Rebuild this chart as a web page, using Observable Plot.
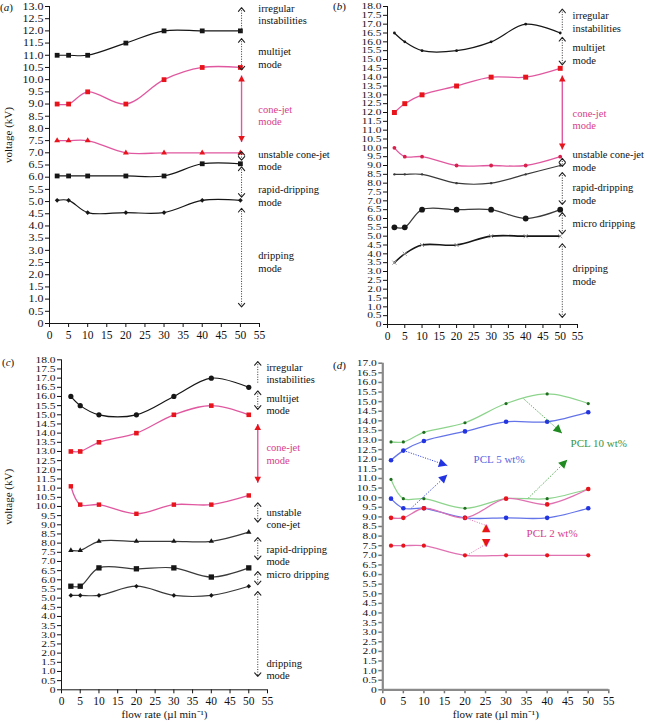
<!DOCTYPE html>
<html><head><meta charset="utf-8">
<script src="https://cdn.jsdelivr.net/npm/d3@7"></script>
<script src="https://cdn.jsdelivr.net/npm/@observablehq/plot@0.6"></script>
<style>
body{margin:0;background:#fff;}
#fig{position:relative;width:645px;height:723px;overflow:hidden;background:#fff;font-family:"Liberation Serif","Times New Roman",serif;color:#111;}
#fig svg{position:absolute;overflow:visible;background:transparent;}
.pl{position:absolute;font-size:11px;line-height:12px;}
</style></head><body><div id="fig">
<div class="pl" style="left:0px;top:1px">(<i>a</i>)</div>
<div class="pl" style="left:333px;top:0px">(<i>b</i>)</div>
<div class="pl" style="left:2px;top:356px">(<i>c</i>)</div>
<div class="pl" style="left:333px;top:359px">(<i>d</i>)</div>
</div>
<script>
// ---------------- DATA ----------------
// panel (a)
const flowA = [2, 5, 10, 20, 30, 40, 50];
const aIrregularOnset = [11, 11, 11, 11.5, 12, 12, 12];
const aMultijetOnset = [9, 9, 9.5, 9, 10, 10.5, 10.5];
const aConeJetOnset = [7.5, 7.5, 7.5, 7, 7, 7, 7];
const aUnstableOnset = [6.05, 6.05, 6.05, 6.05, 6.05, 6.55, 6.55];
const aRapidOnset = [5.05, 5.05, 4.55, 4.55, 4.55, 5.05, 5.05];
const aModes = ["irregular\ninstabilities", "multijet\nmode", "cone-jet\nmode", "unstable cone-jet\nmode", "rapid-dripping\nmode", "dripping\nmode"];
const aModeY = [12.69, 10.91, 8.55, 6.70, 5.25, 2.54];
const aArrowTop = [12.95, 11.68, 10.17, 7.05, 6.42, 4.72];
const aArrowBottom = [11.95, 10.4, 7.44, 6.7, 5.18, 0.68];
const aArrowKind = ["up", "both", "cone", "both", "both", "both"];

// panel (b)
const flowB = [2, 5, 10, 20, 30, 40, 50];
const bIrregularOnset = [16.5, 16, 15.5, 15.5, 16, 17, 16.5];
const bMultijetOnset = [12, 12.5, 13, 13.5, 14, 14, 14.5];
const bConeJetOnset = [10, 9.5, 9.5, 9, 9, 9, 9.5];
const bUnstableOnset = [8.5, 8.5, 8.5, 8, 8, 8.5, 9];
const bRapidOnset = [5.5, 5.5, 6.5, 6.5, 6.5, 6, 6.5];
const bMicroOnset = [3.5, 4, 4.5, 4.5, 5, 5, 5];
const bModes = ["irregular\ninstabilities", "multijet\nmode", "cone-jet\nmode", "unstable cone-jet\nmode", "rapid-dripping\nmode", "micro dripping", "dripping\nmode"];
const bModeY = [17.15, 15.34, 11.63, 9.28, 7.41, 5.77, 2.83];
const bArrowTop = [17.85, 16.25, 14.1, 9.4, 8.6, 6.33, 4.57];
const bArrowBottom = [16.6, 14.7, 9.9, 8.95, 6.8, 5.13, 0.4];
const bArrowKind = ["up", "both", "cone", "both", "both", "both", "both"];

// panel (c)
const flowC = [2.5, 5, 10, 20, 30, 40, 50];
const cIrregularOnset = [16, 15.5, 15, 15, 16, 17, 16.5];
const cMultijetOnset = [13, 13, 13.5, 14, 15, 15.5, 15];
const cConeJetOnset = [11.1, 10.1, 10.1, 9.6, 10.1, 10.1, 10.6];
const cUnstableOnset = [7.6, 7.6, 8.1, 8.1, 8.1, 8.1, 8.6];
const cRapidOnset = [5.65, 5.65, 6.65, 6.6, 6.65, 6.15, 6.65];
const cMicroOnset = [5.15, 5.15, 5.15, 5.65, 5.15, 5.15, 5.65];
const cModes = ["irregular\ninstabilities", "multijet\nmode", "cone-jet\nmode", "unstable\ncone-jet", "rapid-dripping\nmode", "micro dripping", "dripping\nmode"];
const cModeY = [17.28, 15.59, 12.89, 9.37, 7.35, 6.29, 1.13];
const cArrowTop = [17.9, 16.3, 14.5, 10.2, 8.3, 6.45, 5.36];
const cArrowBottom = [16.7, 15.3, 11.3, 9.15, 7.1, 5.73, 0.73];
const cArrowKind = ["up", "both", "cone", "both", "both", "both", "both"];

// panel (d)
const flowD = [2, 5, 10, 20, 30, 40, 50];
const dPCL10Upper = [12.9, 12.9, 13.4, 13.9, 14.9, 15.4, 14.9];
const dPCL5Upper = [11.95, 12.45, 12.95, 13.45, 13.95, 13.95, 14.45];
const dPCL10Lower = [10.95, 9.95, 9.95, 9.45, 9.95, 9.95, 10.45];
const dPCL2Upper = [8.95, 8.95, 9.45, 8.95, 9.95, 9.65, 10.45];
const dPCL5Lower = [9.95, 9.45, 9.45, 8.95, 8.95, 8.95, 9.45];
const dPCL2Lower = [7.5, 7.5, 7.5, 7, 7, 7, 7];
const dLabels = ["PCL 5 wt%", "PCL 10 wt%", "PCL 2 wt%"];
const dLabelX = [22.1, 45.7, 35.0];
const dLabelY = [11.99, 12.82, 8.13];
// pointer arrows: [x1, y1, x2, y2]
const dBluePointers = [[5.1, 12.45, 15.7, 11.67], [7.0, 9.47, 15.7, 11.2]];
const dGreenPointers = [[34.3, 15.14, 43.6, 13.36], [35.5, 10.0, 44.9, 11.97]];
const dRedPointers = [[20, 8.95, 25.2, 8.55], [20.5, 7.0, 25.2, 7.6]];
const dRedHeads = [["\u25B2", 25.2, 8.47], ["\u25BC", 25.2, 7.68]];

// ---------------- STYLE ----------------
const serif = '"Liberation Serif","Times New Roman",serif';
const K = "#161616", DK = "#3a3a3a";
const PINKLINE = "#e0589f", RED = "#e8141c", PINKTXT = "#d8408c";
const GREENLINE = "#8dd48d", GREENPT = "#1f6e1f", GREENTXT = "#3a943a";
const BLUELINE = "#6373e8", BLUEPT = "#2233e0", BLUETXT = "#5565df";
const PINK2 = "#e072b2";
const fig = document.getElementById("fig");

const xOpt = {domain: [0, 55], ticks: d3.range(0, 56, 5), tickSize: 4, tickPadding: 3, label: null, tickFormat: d => String(d)};
const yOpt = m => ({domain: [0, m], ticks: d3.range(0, m + 0.001, 0.5), tickSize: 4, tickPadding: 2, label: null,
  tickFormat: d => d === 0 ? "0" : d.toFixed(1)});

function seriesMarks(flow, list) {
  const out = [];
  for (const s of list) {
    const rows = flow.map((x, i) => ({x, y: s.v[i]}));
    out.push(Plot.line(rows, {x: "x", y: "y", curve: "catmull-rom", stroke: s.line, strokeWidth: s.lw || 1.2}));
    const dopt = {x: "x", y: "y", symbol: s.symbol, r: s.r};
    if (s.symbol === "times") { dopt.stroke = s.fill; dopt.strokeWidth = 1; }
    else { dopt.fill = s.fill; }
    out.push(Plot.dot(rows, dopt));
  }
  return out;
}

function modeMarks(o) {
  const lab = o.labels.map((t, i) => ({t, y: o.labelY[i], pink: o.kinds[i] === "cone"}));
  const arr = o.top.map((t, i) => ({x: o.arrowX, y1: t, y2: o.bottom[i], kind: o.kinds[i]}));
  const tOpt = {x: () => o.labelX, y: "y", text: "t", textAnchor: "start", lineAnchor: "middle", lineHeight: 1.18, fontSize: 10.5};
  const lOpt = {x1: "x", x2: "x", y1: "y1", y2: "y2"};
  return [
    Plot.text(lab.filter(d => !d.pink), {...tOpt, fill: "#111"}),
    Plot.text(lab.filter(d => d.pink), {...tOpt, fill: PINKTXT}),
    Plot.link(arr.filter(d => d.kind === "both"), {...lOpt, stroke: "#333", strokeWidth: 1, strokeDasharray: "1,1.5", ariaLabel: () => "arrow-both"}),
    Plot.link(arr.filter(d => d.kind === "up"), {...lOpt, stroke: "#333", strokeWidth: 1, strokeDasharray: "1,1.5", ariaLabel: () => "arrow-up"}),
    Plot.link(arr.filter(d => d.kind === "cone"), {...lOpt, stroke: PINKLINE, strokeWidth: 1.4, ariaLabel: () => "arrow-cone"})
  ];
}

function finish(svg, o) {
  const NS = "http://www.w3.org/2000/svg";
  const defs = document.createElementNS(NS, "defs");
  const id = o.id;
  const mk = (name, d, fill, stroke, orient) => {
    const m = document.createElementNS(NS, "marker");
    m.setAttribute("id", `${id}-${name}`);
    m.setAttribute("markerUnits", "userSpaceOnUse");
    m.setAttribute("markerWidth", "14");
    m.setAttribute("markerHeight", "14");
    m.setAttribute("viewBox", "-10 -7 14 14");
    m.setAttribute("refX", "0");
    m.setAttribute("refY", "0");
    m.setAttribute("orient", orient);
    const p = document.createElementNS(NS, "path");
    p.setAttribute("d", d);
    p.setAttribute("fill", fill);
    p.setAttribute("stroke", stroke);
    p.setAttribute("stroke-width", "1.1");
    p.setAttribute("stroke-dasharray", "none");
    p.setAttribute("stroke-linecap", "round");
    p.setAttribute("stroke-linejoin", "round");
    m.appendChild(p);
    defs.appendChild(m);
  };
  mk("chev", "M-3.6,-3.1L0,0L-3.6,3.1", "none", "#222", "auto-start-reverse");
  mk("cone", "M-6,-3.3L0,0L-6,3.3Z", RED, "none", "auto-start-reverse");
  mk("blue", "M-8.5,-4.3L0,0L-8.5,4.3Z", BLUEPT, "none", "auto");
  mk("green", "M-8.5,-4.3L0,0L-8.5,4.3Z", "#1f8a1f", "none", "auto");
  svg.insertBefore(defs, svg.firstChild);
  const set = (label, s, e) => svg.querySelectorAll(`[aria-label="${label}"]`).forEach(p => {
    if (s) p.setAttribute("marker-start", `url(#${id}-${s})`);
    if (e) p.setAttribute("marker-end", `url(#${id}-${e})`);
  });
  set("arrow-both", "chev", "chev");
  set("arrow-up", "chev", null);
  set("arrow-cone", "cone", "cone");
  set("ptr-blue", null, "blue");
  set("ptr-green", null, "green");
  // tick label fonts
  svg.querySelectorAll('[aria-label^="y-axis"] text').forEach(t => {
    t.setAttribute("font-size", o.yFont);
    if (o.ySquash !== 1) {
      let tr = t.getAttribute("transform");
      if (!tr) {
        const x = +t.getAttribute("x") || 0, y = +t.getAttribute("y") || 0;
        t.removeAttribute("x"); t.removeAttribute("y");
        tr = `translate(${x},${y})`;
      }
      t.setAttribute("transform", tr + ` scale(1,${o.ySquash})`);
    }
  });
  svg.querySelectorAll('[aria-label^="x-axis"] text').forEach(t => t.setAttribute("font-size", o.xFont));
  if (o.axisColor) {
    svg.querySelectorAll('[aria-label^="y-axis"] path, [aria-label^="y-axis"] line, [aria-label^="x-axis"] path, [aria-label^="x-axis"] line')
      .forEach(p => { p.setAttribute("stroke", o.axisColor); p.setAttribute("stroke-width", 1.5); });
  }
  svg.style.left = o.left + "px";
  svg.style.top = o.top + "px";
  fig.appendChild(svg);
}

const baseStyle = {fontFamily: serif, fontSize: "11px", background: "transparent", overflow: "visible", color: "#111"};

// ---------------- PANEL A ----------------
const svgA = Plot.plot({
  width: 335, height: 345, marginLeft: 49, marginRight: 76, marginTop: 6, marginBottom: 22,
  x: xOpt, y: yOpt(13), style: baseStyle,
  marks: [
    Plot.ruleX([0], {stroke: K}), Plot.ruleY([0], {stroke: K}),
    ...seriesMarks(flowA, [
      {v: aIrregularOnset, line: K, symbol: "square", fill: K, r: 2.7},
      {v: aMultijetOnset, line: PINKLINE, symbol: "square", fill: RED, r: 2.7, lw: 1.3},
      {v: aConeJetOnset, line: PINKLINE, symbol: "triangle", fill: RED, r: 2.2, lw: 1.3},
      {v: aUnstableOnset, line: K, symbol: "square", fill: K, r: 2.7},
      {v: aRapidOnset, line: K, symbol: "diamond2", fill: K, r: 2.1}
    ]),
    ...modeMarks({labels: aModes, labelY: aModeY, labelX: 54.7, arrowX: 50.3, top: aArrowTop, bottom: aArrowBottom, kinds: aArrowKind}),
    Plot.text(["voltage (kV)"], {text: d => d, frameAnchor: "left", dx: -41, dy: -2, rotate: -90, fontSize: 11})
  ]
});
finish(svgA, {id: "pa", left: 0, top: 0, yFont: 12, ySquash: 0.85, xFont: 11.5});

// ---------------- PANEL B ----------------
const svgB = Plot.plot({
  width: 315, height: 345, marginLeft: 57, marginRight: 68, marginTop: 6, marginBottom: 21,
  x: xOpt, y: yOpt(18), style: baseStyle,
  marks: [
    Plot.ruleX([0], {stroke: K}), Plot.ruleY([0], {stroke: K}),
    ...seriesMarks(flowB, [
      {v: bIrregularOnset, line: K, symbol: "circle", fill: K, r: 1.4},
      {v: bMultijetOnset, line: PINKLINE, symbol: "square", fill: RED, r: 2.8, lw: 1.3},
      {v: bConeJetOnset, line: PINKLINE, symbol: "circle", fill: "#d8204a", r: 1.9, lw: 1.3},
      {v: bUnstableOnset, line: DK, symbol: "circle", fill: DK, r: 1.2},
      {v: bRapidOnset, line: DK, symbol: "circle", fill: K, r: 2.9},
      {v: bMicroOnset, line: K, symbol: "times", fill: "#999", r: 2, lw: 1.6}
    ]),
    ...modeMarks({labels: bModes, labelY: bModeY, labelX: 53.55, arrowX: 50.6, top: bArrowTop, bottom: bArrowBottom, kinds: bArrowKind})
  ]
});
finish(svgB, {id: "pb", left: 330, top: 0, yFont: 11.5, ySquash: 0.75, xFont: 11.5});

// ---------------- PANEL C ----------------
const svgC = Plot.plot({
  width: 335, height: 378, marginLeft: 61, marginRight: 68, marginTop: 14.3, marginBottom: 33.7,
  x: xOpt, y: yOpt(18), style: baseStyle,
  marks: [
    Plot.ruleX([0], {stroke: K}), Plot.ruleY([0], {stroke: K}),
    ...seriesMarks(flowC, [
      {v: cIrregularOnset, line: K, symbol: "circle", fill: K, r: 2.6},
      {v: cMultijetOnset, line: PINKLINE, symbol: "square", fill: RED, r: 2.6, lw: 1.3},
      {v: cConeJetOnset, line: PINKLINE, symbol: "square", fill: RED, r: 2.5, lw: 1.3},
      {v: cUnstableOnset, line: DK, symbol: "triangle", fill: K, r: 2.0},
      {v: cRapidOnset, line: DK, symbol: "square", fill: K, r: 3.0},
      {v: cMicroOnset, line: DK, symbol: "diamond2", fill: K, r: 2.1}
    ]),
    ...modeMarks({labels: cModes, labelY: cModeY, labelX: 54.7, arrowX: 52.4, top: cArrowTop, bottom: cArrowBottom, kinds: cArrowKind}),
    Plot.text(["voltage (kV)"], {text: d => d, frameAnchor: "left", dx: -53, rotate: -90, fontSize: 11}),
    Plot.text(["flow rate (\u00B5l min\u207B\u00B9)"], {text: d => d, frameAnchor: "bottom", dy: 28, fontSize: 11})
  ]
});
finish(svgC, {id: "pc", left: 0, top: 345, yFont: 11.5, ySquash: 0.78, xFont: 11.5});

// ---------------- PANEL D ----------------
const ptr = arr => arr.map(([x1, y1, x2, y2]) => ({x1, y1, x2, y2}));
const svgD = Plot.plot({
  width: 315, height: 378, marginLeft: 52.3, marginRight: 36.7, marginTop: 17.7, marginBottom: 33.7,
  x: xOpt, y: yOpt(17), style: baseStyle,
  marks: [
    Plot.ruleX([0], {stroke: "#8a8a8a", strokeWidth: 2.2}), Plot.ruleY([0], {stroke: "#8a8a8a", strokeWidth: 2.2}),
    ...seriesMarks(flowD, [
      {v: dPCL10Upper, line: GREENLINE, symbol: "circle", fill: GREENPT, r: 1.6},
      {v: dPCL5Upper, line: BLUELINE, symbol: "circle", fill: BLUEPT, r: 2.3, lw: 1.3},
      {v: dPCL10Lower, line: GREENLINE, symbol: "circle", fill: GREENPT, r: 1.6},
      {v: dPCL5Lower, line: BLUELINE, symbol: "circle", fill: BLUEPT, r: 2.3, lw: 1.3},
      {v: dPCL2Upper, line: PINK2, symbol: "circle", fill: RED, r: 2.3, lw: 1.3},
      {v: dPCL2Lower, line: PINK2, symbol: "circle", fill: RED, r: 2.1, lw: 1.3}
    ]),
    Plot.link(ptr(dBluePointers), {x1: "x1", y1: "y1", x2: "x2", y2: "y2", stroke: BLUEPT, strokeWidth: 1, strokeDasharray: "1,1.5", ariaLabel: () => "ptr-blue"}),
    Plot.link(ptr(dGreenPointers), {x1: "x1", y1: "y1", x2: "x2", y2: "y2", stroke: "#2f9a2f", strokeWidth: 1, strokeDasharray: "1,1.5", ariaLabel: () => "ptr-green"}),
    Plot.link(ptr(dRedPointers), {x1: "x1", y1: "y1", x2: "x2", y2: "y2", stroke: PINK2, strokeWidth: 1, strokeDasharray: "1,1.5"}),
    Plot.text(dRedHeads, {x: d => d[1], y: d => d[2], text: d => d[0], fill: RED, fontSize: 11, fontFamily: "DejaVu Sans"}),
    Plot.text(dLabels.map((t, i) => ({t, x: dLabelX[i], y: dLabelY[i], c: i})), {x: "x", y: "y", text: "t", textAnchor: "start", fontSize: 11,
      fill: d => [BLUETXT, GREENTXT, PINKTXT][d.c]}),
    Plot.text(["flow rate (\u00B5l min\u207B\u00B9)"], {text: d => d, frameAnchor: "bottom", dy: 28, fontSize: 11})
  ]
});
finish(svgD, {id: "pd", left: 330, top: 345, yFont: 11.5, ySquash: 0.8, xFont: 11.5, axisColor: "#777"});
</script></body></html>
